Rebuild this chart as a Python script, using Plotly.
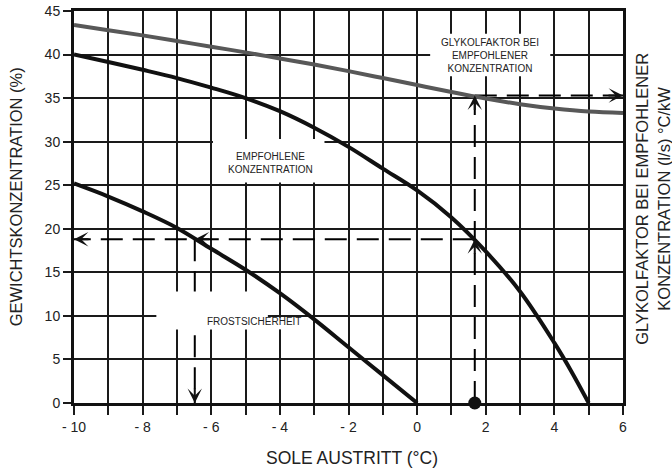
import plotly.graph_objects as go

# ---- data ----
temp_glykol = [-10, -9, -8, -7, -6, -5, -4, -3, -2, -1, 0, 1, 2, 3, 4, 5, 6]
glykol_faktor = [43.4, 42.8, 42.2, 41.55, 40.9, 40.25, 39.55, 38.85, 38.1, 37.3, 36.5, 35.7, 34.95, 34.3, 33.8, 33.45, 33.3]

temp_empf = [-10, -9, -8, -7, -6, -5, -4, -3, -2, -1, 0, 1, 2, 3, 4, 4.5, 5]
konz_empf = [40.0, 39.15, 38.25, 37.3, 36.2, 35.0, 33.5, 31.6, 29.4, 26.9, 24.4, 21.3, 17.4, 12.8, 6.9, 3.6, 0.0]

temp_frost = [-10, -9, -8, -7, -6, -5, -4, -3, -2, -1, 0]
konz_frost = [25.2, 23.7, 22.0, 20.1, 17.7, 15.3, 12.6, 9.6, 6.4, 3.2, 0.0]

design_temp = 1.68        # example brine outlet temperature (°C)
design_konz = 18.8        # recommended concentration at that temperature (%)
frost_temp = -6.48        # frost protection temperature (°C)
design_glykol = 35.3      # glycol factor reading at design temperature

x_ticks = list(range(-10, 7))
x_ticktext = ["- 10", "", "- 8", "", "- 6", "", "- 4", "", "- 2", "", "0", "", "2", "", "4", "", "6"]
y_ticks = [0, 5, 10, 15, 20, 25, 30, 35, 40, 45]
x_min, x_max = -10, 6

FONT = "Liberation Sans, Arial, sans-serif"
TXT = "#222222"

fig = go.Figure()

dash = dict(color="black", width=2, dash="22px,10px")
fig.add_trace(go.Scatter(x=[design_temp, design_temp], y=[0, design_glykol], mode="lines", line=dash))
fig.add_trace(go.Scatter(x=[design_temp, x_max], y=[design_glykol, design_glykol], mode="lines", line=dash))
fig.add_trace(go.Scatter(x=[design_temp, x_min], y=[design_konz, design_konz], mode="lines", line=dash))
fig.add_trace(go.Scatter(x=[frost_temp, frost_temp], y=[design_konz, 0], mode="lines", line=dash))

fig.add_trace(go.Scatter(x=temp_glykol, y=glykol_faktor, mode="lines",
                         line=dict(color="#585858", width=4, shape="spline", smoothing=1.0)))
fig.add_trace(go.Scatter(x=temp_empf, y=konz_empf, mode="lines",
                         line=dict(color="#111111", width=4, shape="spline", smoothing=1.0)))
fig.add_trace(go.Scatter(x=temp_frost, y=konz_frost, mode="lines",
                         line=dict(color="#111111", width=4, shape="spline", smoothing=1.0)))
fig.add_trace(go.Scatter(x=[design_temp], y=[0], mode="markers", cliponaxis=False,
                         marker=dict(color="#111111", size=13)))

# white masks behind the in-plot labels
masks = [
    (-7.6, -4.35, 8.45, 12.8, "above"),
    (-4.35, -3.6, 8.45, 9.8, "between"),
    (-5.95, -2.7, 25.3, 30.3, "between"),
    (0.38, 3.88, 37.5, 42.4, "between"),
]
for x0, x1, y0, y1, lay in masks:
    fig.add_shape(type="rect", xref="x", yref="y", x0=x0, x1=x1, y0=y0, y1=y1,
                  fillcolor="white", line=dict(width=0), layer=lay)

annotations = []
arrows = [
    (design_temp, design_konz, 0, 16),
    (design_temp, design_glykol, 0, 16),
    (x_max, design_glykol, -16, 0),
    (frost_temp, design_konz, 16, 0),
    (x_min, design_konz, 16, 0),
    (frost_temp, 0, 0, -16),
]
for x, y, ax, ay in arrows:
    annotations.append(dict(x=x, y=y, xref="x", yref="y", text="", showarrow=True,
                            ax=ax, ay=ay, arrowhead=3, arrowsize=1.2, arrowwidth=2,
                            arrowcolor="#111111", standoff=0))

lbl = dict(size=10, color=TXT, family=FONT)
annotations += [
    dict(x=-4.28, y=27.6, xref="x", yref="y", text="EMPFOHLENE<br>KONZENTRATION",
         showarrow=False, font=lbl),
    dict(x=2.13, y=39.85, xref="x", yref="y", text="GLYKOLFAKTOR BEI<br>EMPFOHLENER<br>KONZENTRATION",
         showarrow=False, font=lbl),
    dict(x=-4.74, y=9.35, xref="x", yref="y", text="FROSTSICHERHEIT", showarrow=False, font=lbl),
]

annotations += [
    dict(x=0.507, y=-0.141, xref="paper", yref="paper", text="SOLE AUSTRITT (°C)",
         showarrow=False, font=dict(size=17.5, color=TXT, family=FONT),
         xanchor="center", yanchor="middle"),
    dict(x=-0.104, y=0.527, xref="paper", yref="paper", text="GEWICHTSKONZENTRATION (%)",
         showarrow=False, font=dict(size=16.5, color=TXT, family=FONT),
         textangle=-90, xanchor="center", yanchor="middle"),
    dict(x=1.054, y=0.52, xref="paper", yref="paper",
         text="GLYKOLFAKTOR BEI EMPFOHLENER<br>KONZENTRATION (l/s) °C/kW",
         showarrow=False, font=dict(size=16.5, color=TXT, family=FONT),
         textangle=-90, xanchor="center", yanchor="middle"),
]

axis_common = dict(
    showgrid=True, gridcolor="#1a1a1a", gridwidth=1.5,
    showline=True, linecolor="#111111", linewidth=3, mirror=True,
    ticks="outside", tickcolor="#1a1a1a", tickwidth=1.5,
    zeroline=False, automargin=False,
    tickfont=dict(size=14, color=TXT, family=FONT),
)

fig.update_layout(
    width=672, height=472,
    margin=dict(l=74, r=49, t=11, b=69),
    paper_bgcolor="white", plot_bgcolor="white",
    showlegend=False,
    annotations=annotations,
    font=dict(family=FONT, color=TXT),
    xaxis=dict(range=[x_min, x_max], tickvals=x_ticks, ticktext=x_ticktext, ticklen=9, **axis_common),
    yaxis=dict(range=[0, 45], tickvals=y_ticks, ticklen=8, **axis_common),
)

fig.write_html("out.html", config={"displayModeBar": False},
               post_script="document.body.style.margin='0px';")
